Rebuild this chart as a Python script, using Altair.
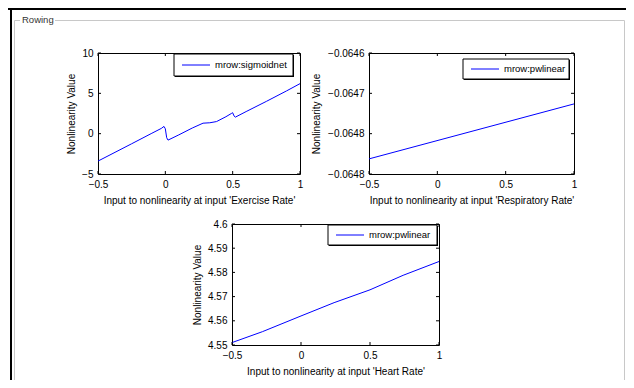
import altair as alt
import pandas as pd

# ---------------- data ----------------
x_ticks = [-0.5, 0, 0.5, 1]

# Panel 1: Exercise Rate, mrow:sigmoidnet
ex_x = [-0.5, -0.25, -0.1, -0.03, -0.01, 0.0, 0.01, 0.02, 0.1, 0.2, 0.28, 0.33, 0.38,
        0.45, 0.49, 0.5, 0.51, 0.52, 0.6, 0.75, 0.9, 1.0]
ex_y = [-3.4, -1.25, 0.05, 0.65, 0.9, 0.6, -0.5, -0.8, -0.15, 0.7, 1.3, 1.35, 1.5,
        2.1, 2.5, 2.6, 2.2, 2.05, 2.74, 4.0, 5.3, 6.2]
ex_yticks = [-5, 0, 5, 10]

# Panel 2: Respiratory Rate, mrow:pwlinear
rr_x = [-0.5, 1.0]
rr_y = [-0.064810, -0.064701]
rr_yticks = [-0.06484, -0.06476, -0.06468, -0.0646]

# Panel 3: Heart Rate, mrow:pwlinear
hr_x = [-0.5, -0.28, 0.0, 0.24, 0.5, 0.74, 1.0]
hr_y = [4.551, 4.5555, 4.562, 4.5675, 4.5728, 4.5788, 4.5845]
hr_yticks = [4.55, 4.56, 4.57, 4.58, 4.59, 4.6]

FONT = "Liberation Sans"
BLUE = "#0000ff"
H = 121
CW, CH = 618, 372          # whole canvas
LEFT, TOP = 90, 45         # origin of the first panel inside the canvas


def panel(xs, ys, ydom, yticks, yfmt, w, xtitle, name, box, ttl_pad, frame=False):
    line_df = pd.DataFrame({"x": xs, "y": ys})
    xt_df = pd.DataFrame({"x": x_ticks})
    yt_df = pd.DataFrame({"y": yticks})
    leg_df = pd.DataFrame({"name": [name]})

    xscale = alt.Scale(domain=[-0.5, 1], nice=False, zero=False)
    yscale = alt.Scale(domain=ydom, nice=False, zero=False)
    xaxis = alt.Axis(values=x_ticks, title=xtitle, labelPadding=5, titlePadding=6,
                     format="~g", labelFlush=False, labelOverlap=False)
    yaxis = alt.Axis(values=yticks, title="Nonlinearity Value", labelPadding=5,
                     titlePadding=ttl_pad, format=yfmt, labelFlush=False,
                     labelOverlap=False)

    line = alt.Chart(line_df).mark_line(color=BLUE, strokeWidth=1).encode(
        x=alt.X("x:Q", scale=xscale, axis=xaxis),
        y=alt.Y("y:Q", scale=yscale, axis=yaxis),
    )
    xt_bot = alt.Chart(xt_df).mark_rule(color="black").encode(
        x=alt.X("x:Q", scale=xscale, axis=xaxis), y=alt.value(H), y2=alt.value(H - 3))
    xt_top = alt.Chart(xt_df).mark_rule(color="black").encode(
        x=alt.X("x:Q", scale=xscale, axis=xaxis), y=alt.value(0), y2=alt.value(3))
    yt_l = alt.Chart(yt_df).mark_rule(color="black").encode(
        y=alt.Y("y:Q", scale=yscale, axis=yaxis), x=alt.value(0), x2=alt.value(3))
    yt_r = alt.Chart(yt_df).mark_rule(color="black").encode(
        y=alt.Y("y:Q", scale=yscale, axis=yaxis), x=alt.value(w - 3), x2=alt.value(w))

    bx0, by0, bx1, by1 = box
    cy = (by0 + by1) / 2
    leg_shadow = alt.Chart(leg_df).mark_rect(fill="black").encode(
        x=alt.value(bx0 + 1), x2=alt.value(bx1 + 1),
        y=alt.value(by0 + 1), y2=alt.value(by1 + 1))
    leg_box = alt.Chart(leg_df).mark_rect(fill="white", stroke="black", strokeWidth=1).encode(
        x=alt.value(bx0), x2=alt.value(bx1), y=alt.value(by0), y2=alt.value(by1))
    leg_line = alt.Chart(leg_df).mark_rule(color=BLUE, strokeWidth=1).encode(
        x=alt.value(bx0 + 8), x2=alt.value(bx0 + 36), y=alt.value(cy))
    leg_text = alt.Chart(leg_df).mark_text(
        align="left", baseline="middle", font=FONT, fontSize=9.5, color="black").encode(
        x=alt.value(bx0 + 41), y=alt.value(cy), text="name:N")

    layers = []
    if frame:
        fr_df = pd.DataFrame({"label": ["Rowing"]})
        gray = "#c8c8c8"
        right = CW - LEFT
        bottom = CH - TOP
        layers += [
            alt.Chart(fr_df).mark_rule(color="black", strokeWidth=2).encode(
                x=alt.value(-LEFT), x2=alt.value(right), y=alt.value(-44)),
            alt.Chart(fr_df).mark_rule(color="black", strokeWidth=2).encode(
                x=alt.value(-87), y=alt.value(-45), y2=alt.value(bottom)),
            alt.Chart(fr_df).mark_rule(color=gray, strokeWidth=1).encode(
                x=alt.value(-83.5), x2=alt.value(-78), y=alt.value(-32.5)),
            alt.Chart(fr_df).mark_rule(color=gray, strokeWidth=1).encode(
                x=alt.value(-43), x2=alt.value(right - 1.5), y=alt.value(-32.5)),
            alt.Chart(fr_df).mark_rule(color=gray, strokeWidth=1).encode(
                x=alt.value(-83.5), y=alt.value(-32.5), y2=alt.value(bottom)),
            alt.Chart(fr_df).mark_rule(color=gray, strokeWidth=1).encode(
                x=alt.value(right - 1.5), y=alt.value(-32.5), y2=alt.value(bottom)),
            alt.Chart(fr_df).mark_text(align="left", baseline="middle", font=FONT,
                                       fontSize=9.5, color="#333333").encode(
                x=alt.value(-76), y=alt.value(-33), text="label:N"),
        ]
    layers += [line, xt_bot, xt_top, yt_l, yt_r, leg_shadow, leg_box, leg_line, leg_text]
    return alt.layer(*layers).properties(width=w, height=H)


p1 = panel(ex_x, ex_y, [-5, 10], ex_yticks, "d", 202,
           "Input to nonlinearity at input 'Exercise Rate'", "mrow:sigmoidnet",
           (76, 1, 195, 23), 5, frame=True)
p2 = panel(rr_x, rr_y, [-0.06484, -0.0646], rr_yticks, ".3", 205,
           "Input to nonlinearity at input 'Respiratory Rate'", "mrow:pwlinear",
           (94, 6, 200, 26), 6)
p3 = panel(hr_x, hr_y, [4.55, 4.6], hr_yticks, "~g", 207,
           "Input to nonlinearity at input 'Heart Rate'", "mrow:pwlinear",
           (96, 1, 205, 21), 5)

spacer = alt.Chart(pd.DataFrame({"s": [0]})).mark_point(opacity=0).encode(
    x=alt.value(0), y=alt.value(0)
).properties(width=134, height=H, view=alt.ViewBackground(stroke="transparent"))

row1 = alt.hconcat(p1, p2, spacing=69, bounds="flush")
row2 = alt.hconcat(spacer, p3, spacing=0, bounds="flush")

# nested flush rows count with zero height, so the spacing is the full row offset
chart = alt.vconcat(row1, row2, spacing=171, bounds="flush").properties(
    autosize=alt.AutoSizeParams(type="none"),
    padding={"left": LEFT, "top": TOP, "right": CW - LEFT, "bottom": CH - TOP},
    background="white",
).configure_axis(
    labelFont=FONT, titleFont=FONT, labelFontSize=10, titleFontSize=10,
    titleFontWeight="normal", labelColor="black", titleColor="black",
    domain=False, ticks=False, tickSize=0, grid=False, labelOverlap=False,
).configure_view(stroke="black", strokeWidth=1)

chart.save("out.html", embed_options={"renderer": "svg", "actions": False})
